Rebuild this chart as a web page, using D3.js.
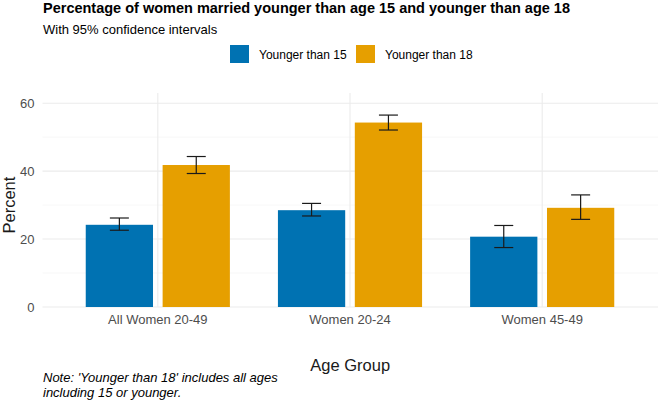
<!DOCTYPE html>
<html>
<head>
<meta charset="utf-8">
<script src="https://cdn.jsdelivr.net/npm/d3@7"></script>
<style>
  body { margin: 0; background: #fff; }
  svg { font-family: "Liberation Sans", Arial, sans-serif; }
</style>
</head>
<body>
<div id="chart"></div>
<script>
// data
const groups = ["All Women 20-49", "Women 20-24", "Women 45-49"];
const seriesNames = ["Younger than 15", "Younger than 18"];
const under15 = [24.2, 28.5, 20.7];
const under15Lo = [22.6, 26.8, 17.5];
const under15Hi = [26.2, 30.5, 24.0];
const under18 = [41.8, 54.3, 29.2];
const under18Lo = [39.3, 52.1, 25.8];
const under18Hi = [44.3, 56.5, 33.0];
const yTicks = [0, 20, 40, 60];
const yMinor = [10, 30, 50];
const colors = ["#0072B2", "#E69F00"];

const W = 660, H = 412;
const margin = {top: 93, right: 2, bottom: 105, left: 42.5};
const width = W - margin.left - margin.right,
      height = H - margin.top - margin.bottom;

const svg = d3.select("#chart").append("svg")
  .attr("width", W).attr("height", H);

const g = svg.append("g")
  .attr("transform", `translate(${margin.left}, ${margin.top})`);

// reshape
const rows = groups.map((grp, i) => ({
  group: grp,
  vals: [
    {key: seriesNames[0], value: under15[i], lo: under15Lo[i], hi: under15Hi[i]},
    {key: seriesNames[1], value: under18[i], lo: under18Lo[i], hi: under18Hi[i]}
  ]
}));

const x0 = d3.scaleBand()
  .domain(groups)
  .range([0, width - 0.5])
  .paddingInner(0)
  .paddingOuter(0.1);

const x1 = d3.scaleBand()
  .domain(seriesNames)
  .range([x0.bandwidth() * 0.1, x0.bandwidth() * 0.9]);

const barW = x0.bandwidth() * 0.35;

const y = d3.scaleLinear()
  .domain([0, 63])
  .range([height, 0]);

const color = d3.scaleOrdinal().domain(seriesNames).range(colors);

// grid
g.selectAll(".minor").data(yMinor).join("line")
  .attr("x1", 0).attr("x2", width)
  .attr("y1", d => y(d)).attr("y2", d => y(d))
  .attr("stroke", "#f3f3f3").attr("stroke-width", 0.6);

g.selectAll(".major").data(yTicks).join("line")
  .attr("x1", 0).attr("x2", width)
  .attr("y1", d => y(d)).attr("y2", d => y(d))
  .attr("stroke", "#ebebeb").attr("stroke-width", 1.1);

g.selectAll(".vgrid").data(groups).join("line")
  .attr("x1", d => x0(d) + x0.bandwidth() / 2)
  .attr("x2", d => x0(d) + x0.bandwidth() / 2)
  .attr("y1", 0).attr("y2", height)
  .attr("stroke", "#ebebeb").attr("stroke-width", 1.1);

// bars
const grp = g.selectAll(".grp").data(rows).join("g")
  .attr("transform", d => `translate(${x0(d.group)},0)`);

grp.selectAll("rect").data(d => d.vals).join("rect")
  .attr("x", d => x1(d.key) + (x1.bandwidth() - barW) / 2)
  .attr("y", d => y(d.value))
  .attr("width", barW)
  .attr("height", d => y(0) - y(d.value))
  .attr("fill", d => color(d.key));

// error bars
const capW = 19;
grp.selectAll(".err").data(d => d.vals).join("g")
  .attr("transform", d => `translate(${x1(d.key) + x1.bandwidth() / 2},0)`)
  .each(function(d) {
    const e = d3.select(this);
    e.append("line").attr("x1", 0).attr("x2", 0)
      .attr("y1", y(d.lo)).attr("y2", y(d.hi));
    e.append("line").attr("x1", -capW / 2).attr("x2", capW / 2)
      .attr("y1", y(d.lo)).attr("y2", y(d.lo));
    e.append("line").attr("x1", -capW / 2).attr("x2", capW / 2)
      .attr("y1", y(d.hi)).attr("y2", y(d.hi));
  })
  .selectAll("line")
  .attr("stroke", "#1a1a1a").attr("stroke-width", 1.2);

// axes
const yAxis = g.append("g")
  .call(d3.axisLeft(y).tickValues(yTicks).tickSize(0).tickPadding(8));
yAxis.select(".domain").remove();
yAxis.selectAll("text")
  .attr("fill", "#4d4d4d")
  .style("font-size", "13px")
  .style("font-family", "Liberation Sans, Arial, sans-serif");

const xAxis = g.append("g")
  .attr("transform", `translate(0, ${height})`)
  .call(d3.axisBottom(x0).tickSize(0).tickPadding(8));
xAxis.select(".domain").remove();
xAxis.selectAll("text")
  .attr("fill", "#4d4d4d")
  .style("font-size", "13px")
  .style("font-family", "Liberation Sans, Arial, sans-serif");

// axis titles
svg.append("text")
  .attr("transform", `translate(15, ${margin.top + y(30)}) rotate(-90)`)
  .attr("text-anchor", "middle")
  .style("font-size", "16.5px")
  .attr("fill", "#1a1a1a")
  .text("Percent");

svg.append("text")
  .attr("x", margin.left + width / 2)
  .attr("y", 371)
  .attr("text-anchor", "middle")
  .style("font-size", "16.5px")
  .attr("fill", "#1a1a1a")
  .text("Age Group");

// titles
svg.append("text")
  .attr("x", 43).attr("y", 13)
  .style("font-size", "14.5px")
  .style("font-weight", "700")
  .attr("fill", "#000")
  .text("Percentage of women married younger than age 15 and younger than age 18");

svg.append("text")
  .attr("x", 43).attr("y", 34)
  .style("font-size", "13px")
  .attr("fill", "#000")
  .text("With 95% confidence intervals");

// legend
const legendX = [230, 356];
const legend = svg.selectAll(".leg").data(seriesNames).join("g")
  .attr("transform", (d, i) => `translate(${legendX[i]}, 45)`);
legend.append("rect")
  .attr("width", 19).attr("height", 18)
  .attr("fill", d => color(d));
legend.append("text")
  .attr("x", 29).attr("y", 14)
  .style("font-size", "12px")
  .attr("fill", "#000")
  .text(d => d);

// note
const note = svg.append("text")
  .attr("x", 43).attr("y", 382)
  .style("font-size", "13px")
  .style("font-style", "italic")
  .attr("fill", "#000");
note.append("tspan").attr("x", 43).text("Note: 'Younger than 18' includes all ages");
note.append("tspan").attr("x", 43).attr("dy", 15).text("including 15 or younger.");
</script>
</body>
</html>
